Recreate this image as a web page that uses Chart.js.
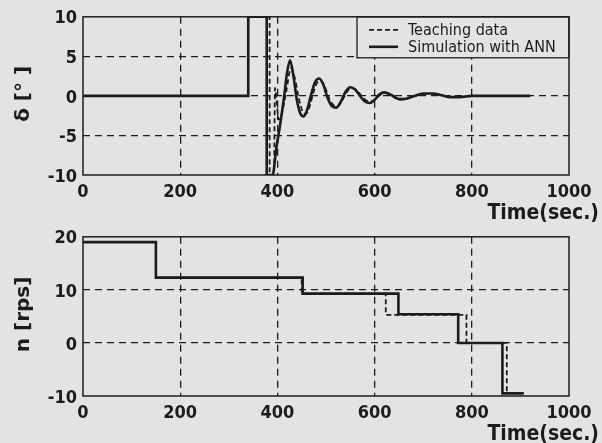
<!DOCTYPE html>
<html lang="en">
<head>
<meta charset="UTF-8">
<title>Rudder angle and propeller revolution</title>
<script src="https://cdn.jsdelivr.net/npm/chart.js"></script>
<style>
    body { margin: 0; padding: 0; background: #e3e3e3; }
    .panel { position: absolute; left: 0; width: 602px; }
    #upper { top: 0; height: 222px; }
    #lower { top: 220px; height: 223px; }
</style>
</head>
<body>

<div class="panel" id="upper"><canvas id="rudderChart"></canvas></div>
<div class="panel" id="lower"><canvas id="revChart"></canvas></div>

<script>
    // Rudder angle delta [deg], teaching data vs. ANN simulation
    const rudderTeachTime = [0, 340, 340, 384, 384, 393, 395, 403, 410, 418, 428, 436, 444, 452, 458, 466, 474, 482, 489, 498,
        507, 516, 524, 533, 543, 553, 563, 573, 583, 592, 602, 612, 622, 634, 645, 656, 668, 684, 705, 725,
        745, 760, 780, 800, 920];
    const rudderTeach = [0, 0, 10, 10, -10, -10, 1, -3, -2, 0.5, 3.5, 2.2, -0.3, -2, -2.3, -1.4, 0.4, 1.7, 1.9, 1.1,
        -0.4, -1.2, -1.3, -0.6, 0.5, 1.0, 0.7, 0, -0.6, -0.7, -0.4, 0.15, 0.35, 0.15, -0.2, -0.35, -0.25, 0, 0.25, 0.25,
        0, -0.1, -0.1, 0, 0];

    const rudderAnnTime = [0, 340, 340, 378, 378, 390, 398, 406, 414, 420, 426, 433, 440, 447, 454, 461, 470, 478, 486, 494,
        503, 512, 521, 530, 540, 550, 560, 570, 580, 590, 600, 610, 620, 632, 642, 653, 665, 680, 700, 720,
        740, 755, 775, 800, 920];
    const rudderAnn = [0, 0, 10, 10, -10, -10, -6.5, -3.5, 0, 3, 4.5, 2.5, -0.5, -2.2, -2.6, -1.8, 0.3, 1.8, 2.2, 1.5,
        -0.2, -1.3, -1.5, -0.8, 0.5, 1.1, 0.8, 0, -0.7, -0.9, -0.5, 0.2, 0.45, 0.2, -0.2, -0.45, -0.35, -0.05, 0.3, 0.3,
        0.05, -0.15, -0.15, 0, 0];

    // Propeller revolution n [rps]: time of each step and the level held from it
    const revTeachTime = [0, 150, 450, 623, 789, 872, 907];
    const revTeach = [19, 12.3, 9.3, 5.3, 0, -9.5, -9.5];
    const revAnnTime = [0, 150, 452, 649, 772, 863, 907];
    const revAnn = [19, 12.3, 9.3, 5.4, 0, -9.5, -9.5];

    const timeTicks = [0, 200, 400, 600, 800, 1000];

    const ink = '#1c1c1c';
    const paper = '#e3e3e3';
    const tickFont = { family: "'DejaVu Sans Condensed', 'DejaVu Sans', sans-serif", size: 18, weight: 'bold' };

    const toPoints = (xs, ys) => xs.map((x, i) => ({ x: x, y: ys[i] }));

    // frame, axis titles and the boxed legend
    const decorations = {
        id: 'decorations',
        afterDatasetsDraw(chart, args, opts) {
            const ctx = chart.ctx;
            const a = chart.chartArea;
            ctx.save();

            if (opts.legend) {
                const lx = a.right - 212, ly = a.top, lw = 212, lh = 41;
                ctx.fillStyle = paper;
                ctx.fillRect(lx, ly, lw, lh);
                ctx.strokeStyle = ink;
                ctx.lineWidth = 1.3;
                ctx.strokeRect(lx, ly, lw, lh);
                ctx.font = "16px 'DejaVu Sans Condensed', 'DejaVu Sans', sans-serif";
                ctx.textBaseline = 'middle';
                ctx.fillStyle = ink;
                chart.data.datasets.forEach((ds, i) => {
                    const y = ly + 13 + i * 17;
                    ctx.beginPath();
                    ctx.setLineDash(ds.borderDash || []);
                    ctx.lineWidth = ds.borderWidth;
                    ctx.moveTo(lx + 12, y);
                    ctx.lineTo(lx + 41, y);
                    ctx.stroke();
                    ctx.setLineDash([]);
                    ctx.fillText(ds.label, lx + 51, y + 1);
                });
            }

            ctx.strokeStyle = ink;
            ctx.lineWidth = 1.5;
            ctx.strokeRect(a.left, a.top, a.right - a.left, a.bottom - a.top);

            ctx.fillStyle = ink;
            ctx.font = "bold 21px 'DejaVu Sans Condensed', 'DejaVu Sans', sans-serif";
            ctx.textAlign = 'right';
            ctx.textBaseline = 'middle';
            ctx.fillText(opts.xTitle, a.right + 30, a.bottom + 39);

            ctx.translate(24, (a.top + a.bottom) / 2 - 2);
            ctx.rotate(-Math.PI / 2);
            ctx.textAlign = 'center';
            ctx.font = "bold 20px 'DejaVu Sans', sans-serif";
            ctx.fillText(opts.yTitle, 0, 0);
            ctx.restore();
        }
    };

    function makeChart(id, datasets, yMin, yMax, yStep, xTitle, yTitle, legend) {
        const gridColor = (c) => (c.tick && (c.tick.value === c.scale.min || c.tick.value === c.scale.max)) ? 'transparent' : ink;
        return new Chart(document.getElementById(id), {
            type: 'line',
            data: { datasets: datasets },
            options: {
                responsive: true,
                maintainAspectRatio: false,
                animation: false,
                layout: { padding: { top: 15, right: 33, left: 0, bottom: 0 } },
                elements: { point: { radius: 0 } },
                plugins: {
                    legend: { display: false },
                    tooltip: { enabled: false },
                    decorations: { xTitle: xTitle, yTitle: yTitle, legend: legend }
                },
                scales: {
                    x: {
                        type: 'linear',
                        min: 0, max: 1000,
                        afterBuildTicks: (s) => { s.ticks = timeTicks.map(v => ({ value: v })); },
                        afterFit: (s) => { s.height = 47; },
                        grid: { color: gridColor, lineWidth: 1.3, drawTicks: false },
                        border: { display: false, dash: [7, 5] },
                        ticks: { color: ink, font: tickFont, padding: 7, maxRotation: 0, callback: (v) => String(v) }
                    },
                    y: {
                        min: yMin, max: yMax,
                        ticks: { stepSize: yStep, color: ink, font: tickFont, padding: 6, labelOffset: 2, callback: (v) => String(v) },
                        afterFit: (s) => { s.width = 83; },
                        grid: { color: gridColor, lineWidth: 1.3, drawTicks: false },
                        border: { display: false, dash: [7, 5] }
                    }
                }
            },
            plugins: [decorations]
        });
    }

    makeChart('rudderChart', [
        {
            label: 'Teaching data',
            data: toPoints(rudderTeachTime, rudderTeach),
            borderColor: ink, borderWidth: 1.8, borderDash: [5, 3],
            cubicInterpolationMode: 'monotone'
        },
        {
            label: 'Simulation with ANN',
            data: toPoints(rudderAnnTime, rudderAnn),
            borderColor: ink, borderWidth: 2.6,
            cubicInterpolationMode: 'monotone'
        }
    ], -10, 10, 5, 'Time(sec.)', 'δ [° ]', true);

    makeChart('revChart', [
        {
            label: 'Teaching data',
            data: toPoints(revTeachTime, revTeach),
            borderColor: ink, borderWidth: 1.8, borderDash: [5, 3],
            stepped: 'before'
        },
        {
            label: 'Simulation with ANN',
            data: toPoints(revAnnTime, revAnn),
            borderColor: ink, borderWidth: 2.6,
            stepped: 'before'
        }
    ], -10, 20, 10, 'Time(sec.)', 'n [rps]', false);
</script>

</body>
</html>
